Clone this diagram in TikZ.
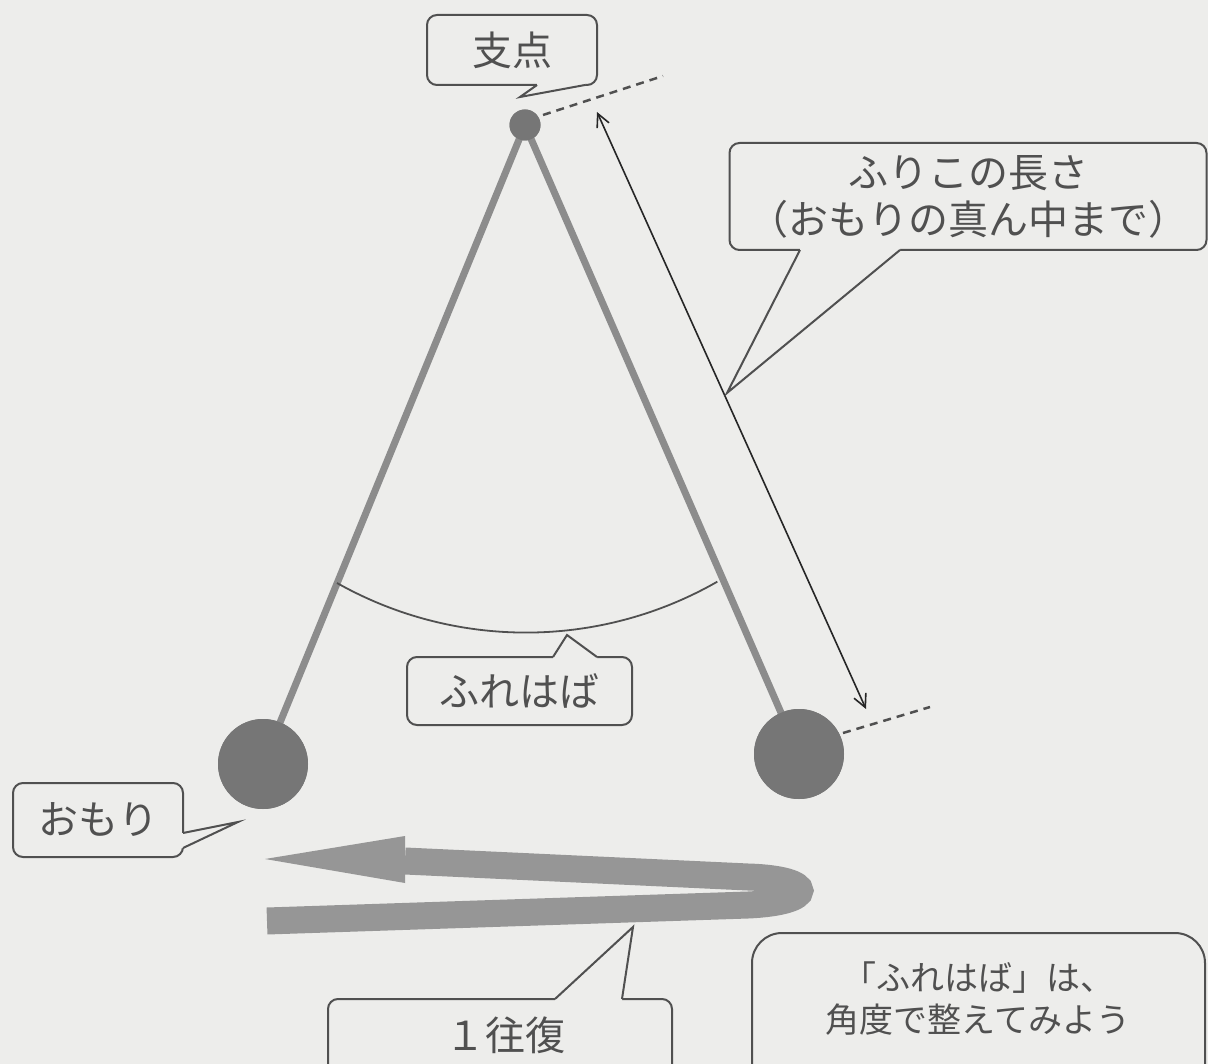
\documentclass[tikz,border=0pt]{standalone}
\usepackage{fontspec}
\setmainfont{Noto Sans CJK JP}
\usetikzlibrary{arrows.meta,calc}
\definecolor{bg}{RGB}{237,237,235}
\definecolor{ink}{RGB}{80,80,80}
\definecolor{rod}{RGB}{140,140,140}
\definecolor{bobc}{RGB}{118,118,118}
\definecolor{band}{RGB}{150,150,150}
\begin{document}
\begin{tikzpicture}[x=1pt,y=-1pt,
  callout/.style={draw=ink, line width=2pt, fill=bg, rounded corners=10pt, inner sep=0pt, text=ink, align=center, font=\fontsize{40}{47}\selectfont},
  tailedge/.style={draw=ink, line width=2pt, line join=miter},
  rodline/.style={draw=rod, line width=7pt},
  bobstyle/.style={circle, fill=bobc, inner sep=0pt, minimum size=90pt},
  pivotstyle/.style={circle, fill=bobc, inner sep=0pt, minimum size=31pt},
  dashline/.style={draw=ink, line width=2.5pt, dash pattern=on 8pt off 6pt},
  lenarrow/.style={draw=black!85, line width=1.6pt, {Straight Barb[length=13pt,width=13pt]}-{Straight Barb[length=13pt,width=13pt]}},
  notetext/.style={text=ink, align=center, font=\fontsize{34}{42}\selectfont, inner sep=0pt}
]
\useasboundingbox (0,0) rectangle (1208,1064);
\fill[bg] (0,0) rectangle (1208,1064);
\clip (0,0) rectangle (1208,1064);

% pendulum
\node[pivotstyle] (pivot) at (525,125) {};
\node[bobstyle] (bobL) at (263,764) {};
\node[bobstyle] (bobR) at (799,754) {};
\draw[rodline] (pivot.center) -- (bobL.center);
\draw[rodline] (pivot.center) -- (bobR.center);
\node[bobstyle] at (263,764) {};
\node[bobstyle] at (799,754) {};
\node[pivotstyle] at (525,125) {};

% swing arc
\draw[ink, line width=1.8pt] ($(526,247)+(-189,336)$) arc[start angle=119.4, end angle=60.2, radius=385];

% dashed reference lines
\coordinate (dpA) at (663,76);
\coordinate (dpB) at (930,707);
\draw[dashline] ($(pivot.center)+(18,-10)$) -- (dpA);
\draw[dashline] ($(bobR.center)+(44,-21)$) -- (dpB);

% length arrow
\coordinate (lenT) at (597,112);
\coordinate (lenB) at (866,709);
\draw[lenarrow] (lenT) -- (lenB);

% one round trip band
\coordinate (bandS) at (267,921);
\coordinate (bandE) at (405,861);
\coordinate (tip) at (265,859);
\draw[band, line width=27pt] (bandS) -- (748,905) .. controls (817,902) and (817,879) .. (748,877) -- (bandE);
\fill[band] (405,836) -- (tip) -- (405,883) -- cycle;

% callout: 支点
\node[callout, minimum width=170pt, minimum height=70pt] (shiten) at (512,50) {支点};
\fill[bg] (537,81) -- (537,85) -- (520,97) -- (585,85) -- (585,81) -- cycle;
\draw[tailedge] (537,85) -- (520,97) -- (585,85);

% callout: ふりこの長さ
\node[callout, minimum width=477pt, minimum height=107pt] (length) at (968,196.5) {ふりこの長さ\\（おもりの真ん中まで）};
\fill[bg] (800,246) -- (800,250) -- (727,393) -- (900,250) -- (900,246) -- cycle;
\draw[tailedge] (800,250) -- (727,393) -- (900,250);

% callout: ふれはば
\node[callout, minimum width=225pt, minimum height=68pt] (amp) at (519.5,691) {ふれはば};
\fill[bg] (553,661) -- (553,657) -- (567,635) -- (597,657) -- (597,661) -- cycle;
\draw[tailedge] (553,657) -- (567,635) -- (597,657);

% callout: おもり
\node[callout, minimum width=170pt, minimum height=74pt] (omori) at (98,820) {おもり};
\fill[bg] (179,833) -- (183,833) -- (238,822) -- (183,848) -- (179,848) -- cycle;
\draw[tailedge] (183,833) -- (238,822) -- (183,848);

% callout: 1往復
\draw[draw=ink, line width=2pt, fill=bg, rounded corners=10pt] (328,999) rectangle (672,1110);
\node[text=ink, inner sep=0pt, font=\fontsize{40}{47}\selectfont] (trip) at (505,1035) {１往復};
\fill[bg] (555,1003) -- (555,999) -- (633,927) -- (622,999) -- (622,1003) -- cycle;
\draw[tailedge] (555,999) -- (633,927) -- (622,999);

% note box
\draw[draw=ink, line width=2pt, rounded corners=30pt] (752,933) rectangle (1205,1120);
\node[notetext] (note) at (978,999) {「ふれはば」は、\\角度で整えてみよう};
\end{tikzpicture}
\end{document}
